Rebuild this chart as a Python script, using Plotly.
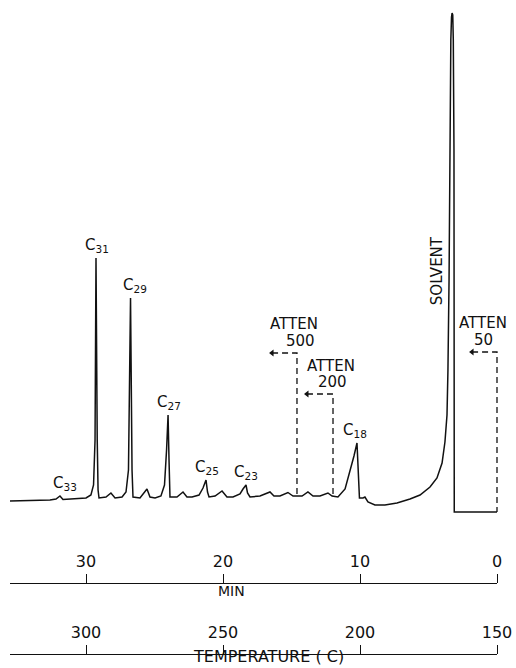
import plotly.graph_objects as go

# Detector trace: retention time (min) and pen response (chart units above baseline)
trace_time = [35.55, 34.09, 32.63, 32.19, 31.90, 31.68, 30.80, 30.00, 29.64, 29.45,
              29.34, 29.27, 29.18, 29.12, 29.05, 28.54, 28.18, 27.88, 27.37, 27.08,
              26.90, 26.75, 26.64, 26.57, 26.06, 25.69, 25.55, 25.33, 24.96, 24.53,
              24.27, 24.12, 24.01, 23.94, 23.87, 23.36, 22.92, 22.63, 22.26, 21.75,
              21.46, 21.24, 21.13, 21.02, 20.58, 20.07, 19.71, 19.27, 18.76, 18.54,
              18.32, 18.21, 18.03, 17.30, 16.57, 16.28, 15.84, 15.26, 14.89, 14.60,
              14.23, 13.80, 13.43, 12.92, 12.34, 12.04, 11.61, 11.09, 10.73, 10.44,
              10.22, 10.11, 10.04, 9.78, 9.64, 9.42, 8.91, 8.18, 7.30, 6.35,
              5.62, 4.89, 4.38, 4.01, 3.80, 3.65, 3.58, 3.50, 3.43, 3.37,
              3.32, 3.28, 3.23, 3.19, 3.14, 3.12, 0.0]
trace_signal = [-1, -0.5, 0, 1, 4, 0.5, 1, 2, 5, 15,
                60, 242, 60, 10, 2, 3, 7, 2, 3, 8,
                30, 202, 30, 3, 2, 8, 11, 3, 2, 4,
                15, 50, 85, 40, 3, 3, 8, 3, 3, 5,
                12, 20, 8, 3, 4, 9, 3, 3, 6, 11,
                15, 7, 3, 4, 8, 4, 4, 7.5, 4, 4,
                4, 8, 4, 4, 7, 4, 3, 11, 28, 44,
                57, 20, 2, 2, 3, -2, -5, -5, -3, 1,
                5, 13, 22, 37, 58, 85, 130, 220, 380, 460,
                483, 487, 485, 460, 350, -12, -12]

# Identified n-alkane peaks
peak_names = ["33", "31", "29", "27", "25", "23", "18"]
peak_times = [31.90, 29.27, 26.75, 24.01, 21.24, 18.32, 10.22]
peak_heights = [4, 242, 202, 85, 20, 15, 57]

solvent_time = 3.28
solvent_height = 487

# Attenuation changes: switch time, marker level, arrow tail, lower end
atten_values = ["500", "200", "50"]
atten_time = [14.60, 11.97, 0.0]
atten_level = [147, 106, 148]
atten_arrow_to = [16.42, 13.87, 1.82]
atten_base = [4, 4, -12]

# Scales under the chart
min_ticks = [30, 20, 10, 0]
temp_ticks = [300, 250, 200, 150]

# Label nudges in pixels (layout only)
peak_label_dx = [5, 1, 4, 1, 1, 0, -2]
atten_word_dx = [-3, -2, -14]
atten_value_dx = [4, -1, -14]
atten_word_dy = [18, 17, 18]

FONT = "DejaVu Sans"
INK = "#111111"
W, H = 516, 668

fig = go.Figure()

fig.add_trace(go.Scatter(
    x=trace_time, y=trace_signal, mode="lines",
    line=dict(color=INK, width=1.5), hoverinfo="skip", showlegend=False))

for t, lvl, tail, base in zip(atten_time, atten_level, atten_arrow_to, atten_base):
    fig.add_trace(go.Scatter(
        x=[tail, t, t], y=[lvl, lvl, base], mode="lines",
        line=dict(color=INK, width=1.3, dash="6px,4px"),
        hoverinfo="skip", showlegend=False))
    fig.add_trace(go.Scatter(
        x=[tail], y=[lvl], mode="markers",
        marker=dict(symbol="triangle-left", size=6, color=INK),
        hoverinfo="skip", showlegend=False))

# invisible anchors so both scale axes are laid out
fig.add_trace(go.Scatter(x=min_ticks, y=[-150] * 4, xaxis="x2", mode="markers",
                         marker=dict(opacity=0), hoverinfo="skip", showlegend=False))
fig.add_trace(go.Scatter(x=temp_ticks, y=[-150] * 4, xaxis="x3", mode="markers",
                         marker=dict(opacity=0), hoverinfo="skip", showlegend=False))

annotations = []
for name, t, h, dx in zip(peak_names, peak_times, peak_heights, peak_label_dx):
    annotations.append(dict(
        x=t, y=h, text=f"C<sub>{name}</sub>", showarrow=False,
        xanchor="center", yanchor="bottom", xshift=dx, yshift=1,
        font=dict(family=FONT, size=15, color=INK)))

annotations.append(dict(
    x=solvent_time, y=solvent_height * 0.47, text="SOLVENT", textangle=-90,
    showarrow=False, xanchor="center", yanchor="middle", xshift=-15,
    font=dict(family=FONT, size=15, color=INK)))

for val, t, lvl, wdx, vdx, wdy in zip(atten_values, atten_time, atten_level,
                                      atten_word_dx, atten_value_dx, atten_word_dy):
    annotations.append(dict(
        x=t, y=lvl, text="ATTEN", showarrow=False, xanchor="center",
        yanchor="bottom", xshift=wdx, yshift=wdy,
        font=dict(family=FONT, size=15, color=INK)))
    annotations.append(dict(
        x=t, y=lvl, text=val, showarrow=False, xanchor="center",
        yanchor="bottom", xshift=vdx, yshift=1,
        font=dict(family=FONT, size=15, color=INK)))

annotations.append(dict(
    xref="paper", yref="paper", x=231 / W, y=1 - 591 / H, text="MIN",
    showarrow=False, xanchor="center", yanchor="middle",
    font=dict(family=FONT, size=14, color=INK)))
annotations.append(dict(
    xref="paper", yref="paper", x=268 / W, y=0, text="TEMPERATURE ( C)",
    showarrow=False, xanchor="center", yanchor="bottom", yshift=0,
    font=dict(family=FONT, size=16, color=INK)))

scale_axis = dict(
    anchor="free", side="top", domain=[10 / W, 497 / W],
    showline=True, linecolor=INK, linewidth=1.3,
    ticks="outside", ticklen=9, tickwidth=1.3, tickcolor=INK,
    tickfont=dict(family=FONT, size=16, color=INK),
    showgrid=False, zeroline=False, fixedrange=True, automargin=False)

fig.update_layout(
    template="none",
    width=W, height=H, autosize=False,
    margin=dict(l=0, r=0, t=0, b=0, pad=0),
    paper_bgcolor="white", plot_bgcolor="rgba(0,0,0,0)",
    showlegend=False,
    xaxis=dict(range=[497 / 13.7, (497 - W) / 13.7], visible=False,
               domain=[0, 1], fixedrange=True, automargin=False),
    yaxis=dict(range=[-168, 500], visible=False, domain=[0, 1], fixedrange=True,
               automargin=False),
    xaxis2=dict(scale_axis, range=[(497 - 10) / 13.7, 0], position=1 - 583 / H,
                tickvals=min_ticks, ticktext=[str(v) for v in min_ticks]),
    xaxis3=dict(scale_axis, range=[150 + (497 - 10) / 137 * 50, 150],
                position=1 - 654 / H,
                tickvals=temp_ticks, ticktext=[str(v) for v in temp_ticks]),
    annotations=annotations,
)

fig.write_html("out.html", config={"displayModeBar": False})
